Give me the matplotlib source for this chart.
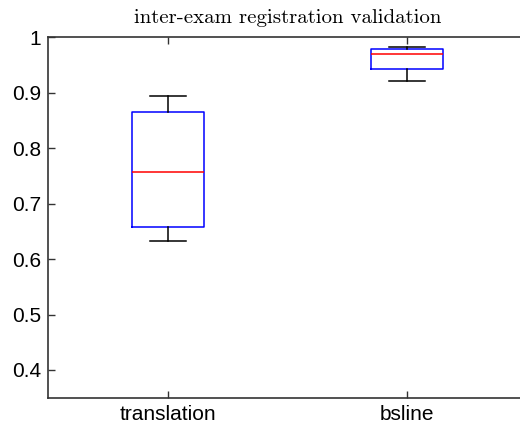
import matplotlib.pyplot as plt

labels = ['translation', 'bsline']
whislo = [0.632, 0.921]
q1 = [0.658, 0.943]
med = [0.757, 0.970]
q3 = [0.865, 0.978]
whishi = [0.895, 0.982]

stats = []
for i in range(len(labels)):
    stats.append(dict(label=labels[i], whislo=whislo[i], q1=q1[i], med=med[i],
                      q3=q3[i], whishi=whishi[i], fliers=[]))

plt.rcParams['font.family'] = 'Liberation Sans'

fig = plt.figure(figsize=(5.2, 4.23), dpi=100)
# axes stop at the figure edge; the x range is cut short there
ax = fig.add_axes([48/520, 25.3/423, 472/520, 360.4/423])

ax.bxp(stats, positions=[1, 2], widths=0.3, showfliers=False,
       boxprops=dict(color='#0000ff', linewidth=1.1),
       medianprops=dict(color='#ff0000', linewidth=1.1),
       whiskerprops=dict(color='black', linewidth=1.1),
       capprops=dict(color='black', linewidth=1.1), capwidths=0.15)

ax.set_xlim(0.5, 2.5 - 7/240)
ax.set_ylim(0.35, 1)
ax.set_yticks([0.4, 0.5, 0.6, 0.7, 0.8, 0.9, 1])
ax.set_yticklabels(['0.4', '0.5', '0.6', '0.7', '0.8', '0.9', '1'])
ax.tick_params(direction='in', length=5, width=1, labelsize=15, colors='#333333',
               top=True, right=False, labelcolor='black', pad=5)
ax.spines['right'].set_visible(False)
for s in ax.spines.values():
    s.set_linewidth(1.2)
    s.set_color('#333333')

# title centred on the full (uncut) x range
ax.set_title('inter-exam registration validation', family='cmr10', fontsize=15,
             pad=10, x=1.0 / (2.0 - 7/240))

fig.savefig('out.png', dpi=100)
